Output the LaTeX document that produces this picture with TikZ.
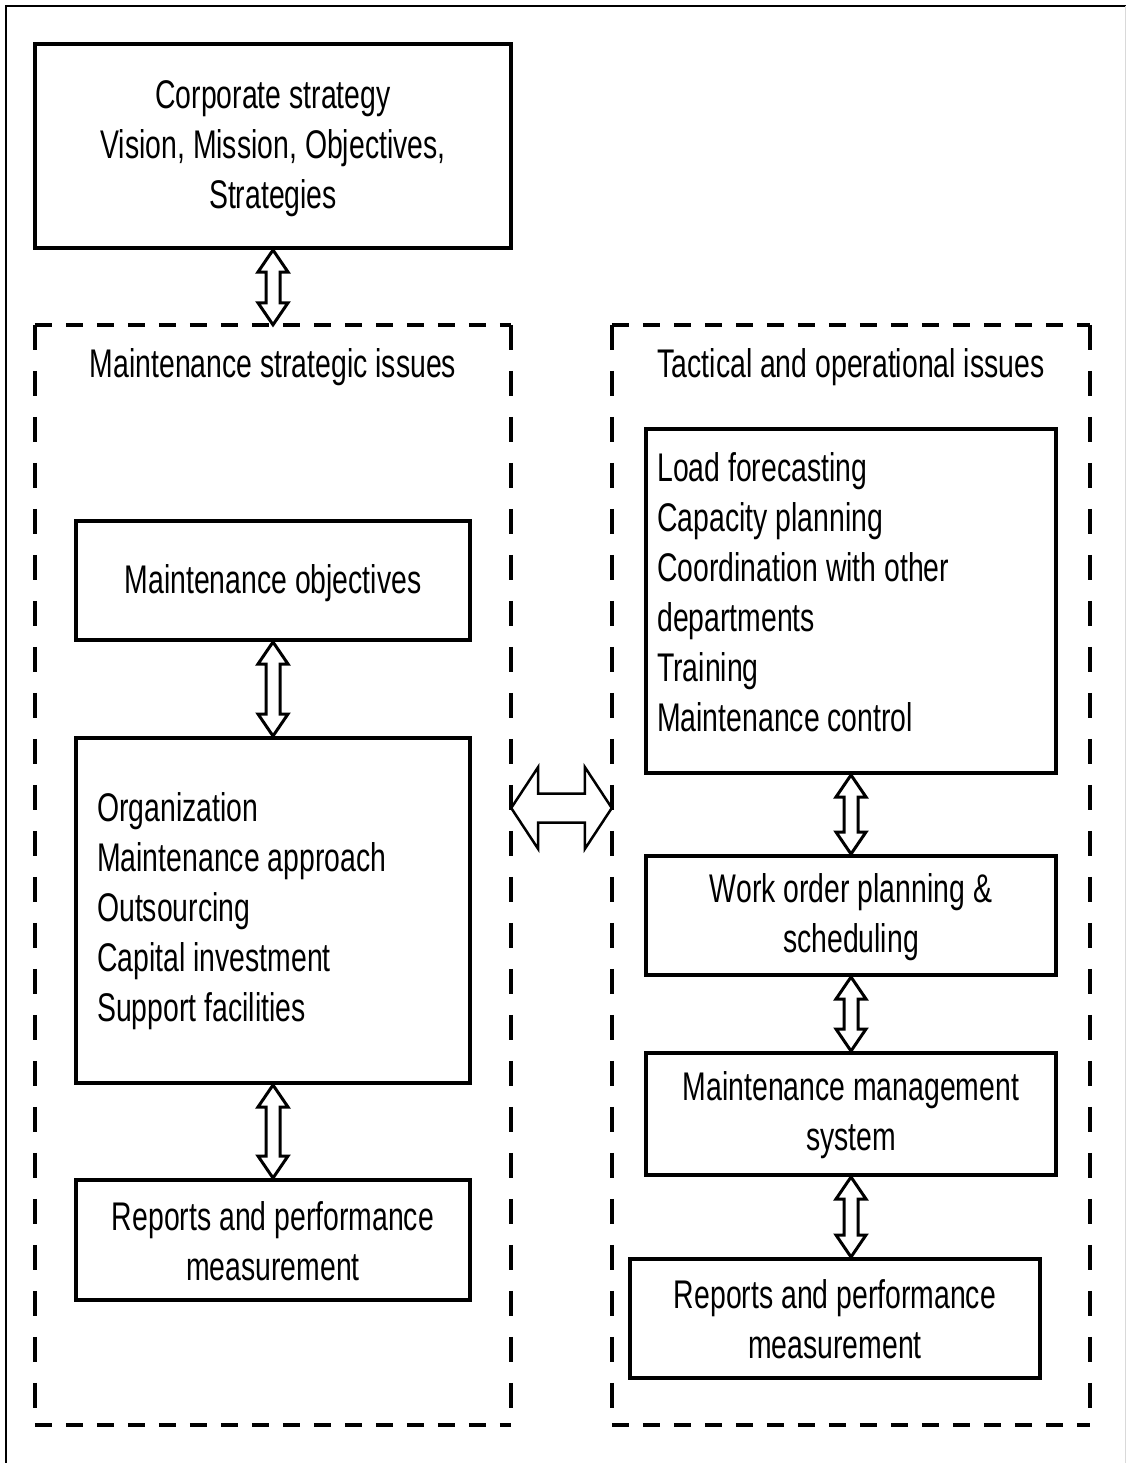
\documentclass[tikz,border=0pt]{standalone}
\usepackage{fontspec}
\setmainfont{Liberation Sans}[FakeStretch=0.71]
\usetikzlibrary{calc}
\newcommand{\myVArrow}[2]{%
  \draw[varrow] (#1) -- ($(#1)+(15,22)$) -- ($(#1)+(7,22)$) -- ($(#2)+(7,-22)$) -- ($(#2)+(15,-22)$) -- (#2)
    -- ($(#2)+(-15,-22)$) -- ($(#2)+(-7,-22)$) -- ($(#1)+(-7,22)$) -- ($(#1)+(-15,22)$) -- cycle;}
\begin{document}
\begin{tikzpicture}[x=1pt,y=-1pt,
  box/.style={draw, line width=4pt, inner sep=0pt},
  txt/.style={inner sep=0pt, align=center, font=\fontsize{40}{50}\selectfont},
  frame/.style={inner sep=0pt},
  hdash/.style={line width=4pt, dash pattern=on 17pt off 14pt},
  vdash/.style={line width=4pt, dash pattern=on 25pt off 21pt},
  varrow/.style={draw, fill=white, line width=3pt, line join=miter},
  harrow/.style={draw, fill=white, line width=2.5pt, line join=miter}]
\useasboundingbox (0,0) rectangle (1126,1463);
% outer border
\draw[line width=2pt] (6,1463) -- (6,6) -- (1126,6);
\draw[black!15, line width=1pt] (1125,6) -- (1125,1463);

% dashed frames
\node[frame, minimum width=476pt, minimum height=1100pt] (lframe) at (273,875) {};
\node[frame, minimum width=478pt, minimum height=1100pt] (rframe) at (851,875) {};
\foreach \f in {lframe,rframe}{
  \draw[hdash] (\f.north west) -- (\f.north east);
  \draw[hdash] (\f.south west) -- (\f.south east);
  \draw[vdash] (\f.north west) -- (\f.south west);
  \draw[vdash] (\f.north east) -- (\f.south east);
}

% corporate
\node[box, minimum width=476pt, minimum height=204pt] (corp) at (273,146) {};
\node[txt] (corptext) at ($(corp.center)+(0,3)$)
  {Corporate strategy\\Vision, Mission, Objectives,\\Strategies};

% left column
\node[txt, anchor=base] (ltitle) at (273,377) {Maintenance strategic issues};
\node[box, minimum width=394pt, minimum height=119pt] (mobj) at (273,580.5) {};
\node[txt] (mobjtext) at ($(mobj.center)+(0,3)$) {Maintenance objectives};
\node[box, minimum width=394pt, minimum height=345pt] (org) at (273,910.5) {};
\node[txt, anchor=west, align=left] (orgtext) at (97,911)
  {Organization\\Maintenance approach\\Outsourcing\\Capital investment\\Support facilities};
\node[box, minimum width=394pt, minimum height=120pt] (repl) at (273,1240) {};
\node[txt] (repltext) at ($(repl.center)+(0,1)$) {Reports and performance\\measurement};

% right column
\node[txt, anchor=base] (rtitle) at (851,377) {Tactical and operational issues};
\node[box, minimum width=410pt, minimum height=344pt] (load) at (851,601) {};
\node[txt, anchor=west, align=left] (loadtext) at (657,592)
  {Load forecasting\\Capacity planning\\Coordination with other\\departments\\Training\\Maintenance control};
\node[box, minimum width=410pt, minimum height=119pt] (work) at (851,915.5) {};
\node[txt] (worktext) at ($(work.center)+(0,2)$) {Work order planning \&\\scheduling};
\node[box, minimum width=410pt, minimum height=122pt] (mms) at (851,1114) {};
\node[txt] (mmstext) at ($(mms.center)+(0,1)$) {Maintenance management\\system};
\node[box, minimum width=410pt, minimum height=119pt] (repr) at (835,1318.5) {};
\node[txt] (reprtext) at ($(repr.center)+(0,1)$) {Reports and performance\\measurement};

% vertical arrows
\coordinate (a1) at (corp.south);
\coordinate (a2) at (lframe.north);
\myVArrow{a1}{a2}
\myVArrow{mobj.south}{org.north}
\myVArrow{org.south}{repl.north}
\myVArrow{load.south}{work.north}
\myVArrow{work.south}{mms.north}
\coordinate (m1) at (mms.south);
\coordinate (m2) at (mms.south |- repr.north);
\myVArrow{m1}{m2}

% horizontal arrow
\coordinate (hl) at ($(lframe.east)+(0,-67)$);
\coordinate (hr) at ($(rframe.west)+(0,-67)$);
\draw[harrow] (hl) -- ($(hl)+(27,-41)$) -- ($(hl)+(27,-14.5)$) -- ($(hr)+(-27,-14.5)$) -- ($(hr)+(-27,-41)$) -- (hr)
  -- ($(hr)+(-27,41)$) -- ($(hr)+(-27,14.5)$) -- ($(hl)+(27,14.5)$) -- ($(hl)+(27,41)$) -- cycle;
\end{tikzpicture}
\end{document}
